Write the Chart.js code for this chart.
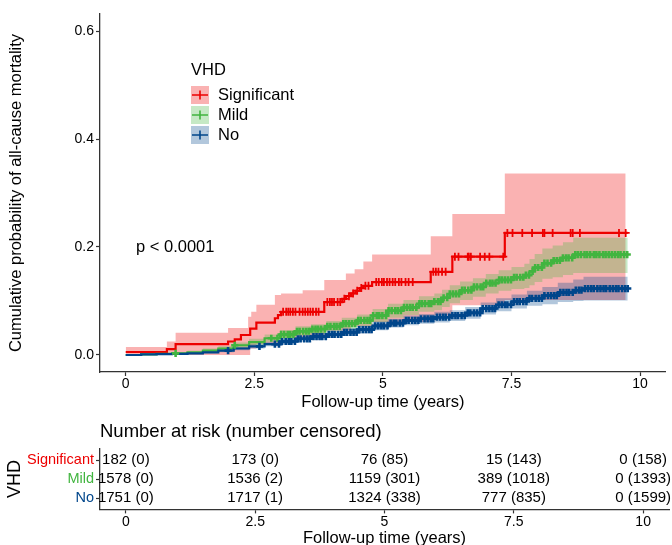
<!DOCTYPE html>
<html>
<head>
<meta charset="utf-8">
<script src="https://cdn.jsdelivr.net/npm/chart.js@4"></script>
<style>
html,body{margin:0;padding:0;overflow:hidden;background:#fff;width:672px;height:545px;}
#main{position:absolute;left:0;top:0;}
#risk{position:absolute;left:0;top:412px;}
</style>
</head>
<body>
<canvas id="main" width="672" height="412"></canvas>
<canvas id="risk" width="672" height="136"></canvas>
<script>
// ---------------- DATA ----------------
const groups = ['Significant', 'Mild', 'No'];
const legendTitle = 'VHD';
const pText = 'p < 0.0001';
const xTitle = 'Follow-up time (years)';
const yTitle = 'Cumulative probability of all-cause mortality';
const tableTitle = 'Number at risk (number censored)';
const xTicks = [0, 2.5, 5, 7.5, 10];
const yTicks = [0, 0.2, 0.4, 0.6];

// Significant VHD
const sigTime  = [0, 0.80, 0.97, 1.99, 2.12, 2.24, 2.42, 2.54, 2.90, 2.96, 3.02, 3.86, 4.21, 4.28, 4.38, 4.47, 4.55, 4.62, 4.79, 5.93, 6.35, 7.37, 9.76];
const sigCum   = [0.0055, 0.011, 0.020, 0.025, 0.029, 0.037, 0.049, 0.060, 0.068, 0.074, 0.080, 0.098, 0.104, 0.109, 0.114, 0.119, 0.124, 0.128, 0.135, 0.154, 0.182, 0.226, 0.226];
const sigUpTime = [0, 0.80, 0.97, 1.99, 2.38, 2.44, 2.54, 2.90, 3.02, 3.44, 3.86, 4.28, 4.45, 4.62, 4.79, 5.93, 6.35, 7.37, 9.72];
const sigUpper  = [0.015, 0.025, 0.041, 0.050, 0.071, 0.080, 0.093, 0.111, 0.114, 0.120, 0.139, 0.151, 0.159, 0.173, 0.186, 0.220, 0.261, 0.336, 0.336];
const sigLoTime = [0, 2.42, 2.54, 2.96, 3.86, 4.38, 4.79, 5.93, 6.35, 7.37, 9.72];
const sigLower  = [0, 0.012, 0.020, 0.032, 0.045, 0.053, 0.061, 0.073, 0.092, 0.102, 0.102];
const sigCensor = [3.06, 3.12, 3.16, 3.20, 3.25, 3.30, 3.38, 3.44, 3.49, 3.54, 3.59, 3.64, 3.70, 3.75, 3.92, 3.97, 4.01, 4.05, 4.12, 4.17, 4.25, 4.34, 4.42, 4.50, 4.58, 4.66, 4.72, 4.87, 4.92, 4.98, 5.02, 5.08, 5.13, 5.19, 5.24, 5.31, 5.36, 5.44, 5.50, 5.58, 5.98, 6.03, 6.08, 6.15, 6.22, 6.40, 6.47, 6.65, 6.67, 6.71, 6.89, 6.98, 7.07, 7.34, 7.42, 7.52, 7.71, 7.90, 8.11, 8.14, 8.30, 8.65, 8.69, 8.83, 9.59, 9.72];

// Mild VHD
const mildTime  = [0, 0.3, 0.6, 0.9, 1.2, 1.5, 1.8, 2.1, 2.4, 2.7, 3.0, 3.3, 3.6, 3.9, 4.2, 4.5, 4.8, 5.1, 5.4, 5.7, 6.0, 6.15, 6.3, 6.5, 6.75, 7.0, 7.25, 7.5, 7.75, 7.85, 7.95, 8.1, 8.3, 8.5, 8.7, 9.76];
const mildCum   = [0, 0.001, 0.002, 0.003, 0.005, 0.008, 0.012, 0.018, 0.024, 0.031, 0.038, 0.044, 0.048, 0.053, 0.058, 0.064, 0.073, 0.082, 0.088, 0.095, 0.099, 0.106, 0.113, 0.120, 0.126, 0.133, 0.139, 0.144, 0.148, 0.155, 0.162, 0.170, 0.175, 0.180, 0.186, 0.186];
const mildUpper = [0, 0.002, 0.004, 0.005, 0.008, 0.012, 0.016, 0.023, 0.030, 0.038, 0.046, 0.053, 0.057, 0.063, 0.069, 0.075, 0.085, 0.095, 0.102, 0.109, 0.114, 0.121, 0.129, 0.136, 0.142, 0.150, 0.157, 0.163, 0.169, 0.178, 0.187, 0.197, 0.203, 0.209, 0.217, 0.217];
const mildLower = [0, 0, 0, 0.001, 0.002, 0.004, 0.008, 0.013, 0.018, 0.024, 0.030, 0.035, 0.039, 0.043, 0.047, 0.053, 0.061, 0.069, 0.074, 0.080, 0.083, 0.089, 0.096, 0.102, 0.108, 0.114, 0.119, 0.122, 0.124, 0.129, 0.135, 0.141, 0.144, 0.148, 0.152, 0.152];
const mildCensor = [0.97, 2.12, 2.83, 2.95, 3.02, 3.08, 3.15, 3.20, 3.26, 3.33, 3.38, 3.45, 3.51, 3.56, 3.63, 3.69, 3.74, 3.80, 3.87, 3.92, 3.98, 4.05, 4.10, 4.16, 4.23, 4.28, 4.34, 4.40, 4.46, 4.52, 4.57, 4.64, 4.70, 4.75, 4.81, 4.88, 4.93, 4.99, 5.06, 5.11, 5.17, 5.24, 5.29, 5.35, 5.41, 5.47, 5.53, 5.58, 5.65, 5.71, 5.76, 5.82, 5.89, 5.94, 6.00, 6.07, 6.12, 6.18, 6.25, 6.30, 6.36, 6.42, 6.48, 6.54, 6.59, 6.66, 6.72, 6.77, 6.83, 6.90, 6.95, 7.01, 7.08, 7.13, 7.19, 7.26, 7.31, 7.37, 7.43, 7.49, 7.55, 7.60, 7.67, 7.73, 7.78, 7.84, 7.91, 7.96, 8.02, 8.09, 8.14, 8.20, 8.27, 8.32, 8.38, 8.44, 8.50, 8.56, 8.61, 8.68, 8.74, 8.79, 8.85, 8.92, 8.97, 9.03, 9.10, 9.15, 9.21, 9.28, 9.33, 9.39, 9.45, 9.51, 9.57, 9.62, 9.69, 9.75];

// No VHD
const noTime  = [0, 0.3, 0.6, 0.9, 1.2, 1.5, 1.8, 2.1, 2.4, 2.7, 3.0, 3.3, 3.6, 3.9, 4.2, 4.5, 4.8, 5.1, 5.4, 5.7, 6.0, 6.3, 6.6, 6.9, 7.2, 7.5, 7.8, 8.1, 8.4, 8.7, 8.9, 9.76];
const noCum   = [0, 0.001, 0.0015, 0.002, 0.003, 0.005, 0.008, 0.012, 0.016, 0.020, 0.025, 0.030, 0.034, 0.038, 0.042, 0.047, 0.054, 0.059, 0.064, 0.067, 0.070, 0.073, 0.078, 0.086, 0.093, 0.099, 0.105, 0.110, 0.116, 0.120, 0.123, 0.123];
const noUpper = [0, 0.002, 0.0025, 0.003, 0.005, 0.007, 0.011, 0.015, 0.020, 0.024, 0.030, 0.035, 0.040, 0.044, 0.049, 0.054, 0.062, 0.067, 0.073, 0.076, 0.080, 0.083, 0.089, 0.097, 0.105, 0.112, 0.119, 0.126, 0.134, 0.140, 0.145, 0.145];
const noLower = [0, 0, 0.0005, 0.001, 0.001, 0.003, 0.005, 0.009, 0.012, 0.016, 0.020, 0.025, 0.028, 0.032, 0.035, 0.040, 0.046, 0.051, 0.055, 0.058, 0.060, 0.063, 0.067, 0.075, 0.081, 0.086, 0.091, 0.094, 0.098, 0.100, 0.101, 0.101];
const noCensor = [1.99, 2.60, 2.90, 2.98, 3.04, 3.11, 3.17, 3.22, 3.29, 3.35, 3.40, 3.47, 3.53, 3.58, 3.65, 3.71, 3.77, 3.82, 3.89, 3.95, 4.01, 4.06, 4.13, 4.19, 4.25, 4.30, 4.37, 4.43, 4.49, 4.54, 4.61, 4.67, 4.73, 4.78, 4.85, 4.91, 4.97, 5.02, 5.09, 5.15, 5.21, 5.26, 5.33, 5.39, 5.45, 5.50, 5.57, 5.63, 5.69, 5.74, 5.81, 5.87, 5.93, 5.98, 6.05, 6.11, 6.17, 6.22, 6.29, 6.35, 6.41, 6.46, 6.53, 6.59, 6.65, 6.70, 6.77, 6.83, 6.89, 6.94, 7.01, 7.07, 7.13, 7.18, 7.25, 7.31, 7.37, 7.42, 7.49, 7.55, 7.61, 7.66, 7.73, 7.79, 7.85, 7.90, 7.97, 8.03, 8.09, 8.14, 8.21, 8.27, 8.33, 8.38, 8.45, 8.51, 8.57, 8.62, 8.69, 8.75, 8.81, 8.86, 8.93, 8.99, 9.05, 9.10, 9.17, 9.23, 9.29, 9.34, 9.41, 9.47, 9.53, 9.58, 9.65, 9.71, 9.76];

// Risk table
const riskTimes = [0, 2.5, 5, 7.5, 10];
const sigAtRisk  = [182, 173, 76, 15, 0];
const sigCensN   = [0, 0, 85, 143, 158];
const mildAtRisk = [1578, 1536, 1159, 389, 0];
const mildCensN  = [0, 2, 301, 1018, 1393];
const noAtRisk   = [1751, 1717, 1324, 777, 0];
const noCensN    = [0, 1, 338, 835, 1599];

// ---------------- STYLE ----------------
const lineColors = ['#ED0000', '#42B540', '#00468B'];
const bandColors = ['rgba(237,0,0,0.3)', 'rgba(66,181,64,0.3)', 'rgba(0,70,139,0.3)'];
const markRadius = [4, 3.6, 3.6];
const markWidth = [1.8, 2.6, 2.6];
const FONT = '"Liberation Sans", Arial, Helvetica, sans-serif';
const axisColor = '#333333';
Chart.defaults.font.family = FONT;
Chart.defaults.color = '#000';

function pts(ts, vs) { return ts.map((t, i) => ({ x: t, y: vs[i] })); }
function stepValue(ts, vs, t) {
  let v = vs[0];
  for (let i = 0; i < ts.length; i++) { if (ts[i] <= t + 1e-9) v = vs[i]; else break; }
  return v;
}
function censorPts(cs, ts, vs) { return cs.map(t => ({ x: t, y: stepValue(ts, vs, t) })); }

const series = [
  { time: sigTime, cum: sigCum, upT: sigUpTime, up: sigUpper, loT: sigLoTime, lo: sigLower, cens: sigCensor },
  { time: mildTime, cum: mildCum, upT: mildTime, up: mildUpper, loT: mildTime, lo: mildLower, cens: mildCensor },
  { time: noTime, cum: noCum, upT: noTime, up: noUpper, loT: noTime, lo: noLower, cens: noCensor }
];

const datasets = [];
series.forEach((s, i) => {
  datasets.push({
    label: groups[i] + ' censored', data: censorPts(s.cens, s.time, s.cum),
    showLine: false, pointStyle: 'cross', pointRadius: markRadius[i], pointHoverRadius: markRadius[i],
    pointBorderWidth: markWidth[i], pointBorderColor: lineColors[i], pointBackgroundColor: lineColors[i],
    borderColor: lineColors[i], order: 0.3 - i * 0.1
  });
  datasets.push({
    label: groups[i], data: pts(s.time, s.cum), stepped: 'before',
    borderColor: lineColors[i], borderWidth: 2.2, pointRadius: 0, fill: false, order: 1.3 - i * 0.1
  });
});
series.forEach((s, i) => {
  datasets.push({
    label: groups[i] + ' upper', data: pts(s.upT, s.up), stepped: 'before',
    borderColor: 'rgba(0,0,0,0)', borderWidth: 0, pointRadius: 0,
    backgroundColor: bandColors[i], fill: '+1', order: 4 - i
  });
  datasets.push({
    label: groups[i] + ' lower', data: pts(s.loT, s.lo), stepped: 'before',
    borderColor: 'rgba(0,0,0,0)', borderWidth: 0, pointRadius: 0, fill: false, order: 4 - i
  });
});

const gridOpts = { display: true, drawOnChartArea: false, drawTicks: true, tickLength: 4, tickColor: axisColor, tickWidth: 1.2 };
const borderOpts = { display: true, color: axisColor, width: 1.3 };

const mainText = {
  id: 'mainText',
  afterDraw(chart) {
    const ctx = chart.ctx, xs = chart.scales.x, ys = chart.scales.y;
    ctx.save();
    ctx.font = '16.5px ' + FONT;
    ctx.fillStyle = '#000';
    ctx.textAlign = 'left';
    ctx.textBaseline = 'middle';
    ctx.fillText(pText, xs.getPixelForValue(0.2), ys.getPixelForValue(0.2));
    // legend
    const lx = 191;
    ctx.fillText(legendTitle, lx, 70);
    groups.forEach((g, i) => {
      const cy = 95 + i * 20;
      ctx.fillStyle = bandColors[i];
      ctx.fillRect(lx, cy - 9, 18, 18);
      ctx.strokeStyle = lineColors[i];
      ctx.lineWidth = 1.6;
      ctx.beginPath();
      ctx.moveTo(lx + 1, cy); ctx.lineTo(lx + 17, cy);
      ctx.moveTo(lx + 9, cy - 4.5); ctx.lineTo(lx + 9, cy + 4.5);
      ctx.stroke();
      ctx.fillStyle = '#000';
      ctx.fillText(g, lx + 27, cy);
    });
    ctx.restore();
  }
};

new Chart(document.getElementById('main'), {
  type: 'line',
  data: { datasets },
  options: {
    responsive: false, animation: false, devicePixelRatio: 1, events: [],
    layout: { padding: { top: 14, right: 3, left: 0, bottom: 0 } },
    plugins: { legend: { display: false }, tooltip: { enabled: false } },
    scales: {
      x: {
        type: 'linear', min: -0.5, max: 10.5,
        afterBuildTicks: s => { s.ticks = xTicks.map(v => ({ value: v })); },
        afterFit: s => { s.height = 40; },
        ticks: { font: { size: 14 }, color: '#000', padding: 0, maxRotation: 0, callback: v => String(v) },
        grid: gridOpts, border: borderOpts,
        title: { display: true, text: xTitle, font: { size: 16.5 }, color: '#000', padding: { top: 0, bottom: 0 } }
      },
      y: {
        type: 'linear', min: -0.0315, max: 0.6315,
        afterBuildTicks: s => { s.ticks = yTicks.map(v => ({ value: v })); },
        afterFit: s => { s.width = 100; },
        ticks: { font: { size: 14 }, color: '#000', padding: 2, callback: v => Number(v).toFixed(1) },
        grid: gridOpts, border: borderOpts,
        title: { display: true, text: yTitle, font: { size: 16.5 }, color: '#000', padding: { top: 7, bottom: 0 } }
      }
    }
  },
  plugins: [mainText]
});

// ---------------- RISK TABLE ----------------
const riskRows = [
  { n: sigAtRisk, c: sigCensN },
  { n: mildAtRisk, c: mildCensN },
  { n: noAtRisk, c: noCensN }
];
const riskText = {
  id: 'riskText',
  afterDraw(chart) {
    const ctx = chart.ctx, xs = chart.scales.x, ys = chart.scales.y;
    ctx.save();
    ctx.fillStyle = '#000';
    ctx.font = '15px ' + FONT;
    ctx.textAlign = 'center';
    ctx.textBaseline = 'middle';
    riskRows.forEach((r, ri) => {
      riskTimes.forEach((t, j) => {
        ctx.fillText(r.n[j] + ' (' + r.c[j] + ')', xs.getPixelForValue(t), ys.getPixelForValue(ri + 1));
      });
    });
    ctx.font = '18.5px ' + FONT;
    ctx.textAlign = 'left';
    ctx.fillText(tableTitle, chart.chartArea.left, 20);
    ctx.restore();
  }
};

new Chart(document.getElementById('risk'), {
  type: 'scatter',
  data: { datasets: [] },
  options: {
    responsive: false, animation: false, devicePixelRatio: 1, events: [],
    layout: { padding: { top: 36.6, right: 3, left: 0, bottom: 0 } },
    plugins: { legend: { display: false }, tooltip: { enabled: false } },
    scales: {
      x: {
        type: 'linear', min: -0.5, max: 10.5,
        afterBuildTicks: s => { s.ticks = riskTimes.map(v => ({ value: v })); },
        afterFit: s => { s.height = 38.6; },
        ticks: { font: { size: 14 }, color: '#000', padding: 0, maxRotation: 0, callback: v => String(v) },
        grid: gridOpts, border: borderOpts,
        title: { display: true, text: xTitle, font: { size: 16.5 }, color: '#000', padding: { top: 0, bottom: 0 } }
      },
      y: {
        type: 'linear', min: 0.4, max: 3.6, reverse: true,
        afterBuildTicks: s => { s.ticks = [1, 2, 3].map(v => ({ value: v })); },
        afterFit: s => { s.width = 100; },
        ticks: {
          font: { size: 14.5 }, padding: 2,
          color: c => lineColors[Math.round(c.tick.value) - 1],
          callback: v => groups[Math.round(v) - 1]
        },
        grid: gridOpts, border: borderOpts,
        title: { display: true, text: legendTitle, font: { size: 18 }, color: '#000', padding: { top: 4, bottom: 0 } }
      }
    }
  },
  plugins: [riskText]
});
</script>
</body>
</html>
